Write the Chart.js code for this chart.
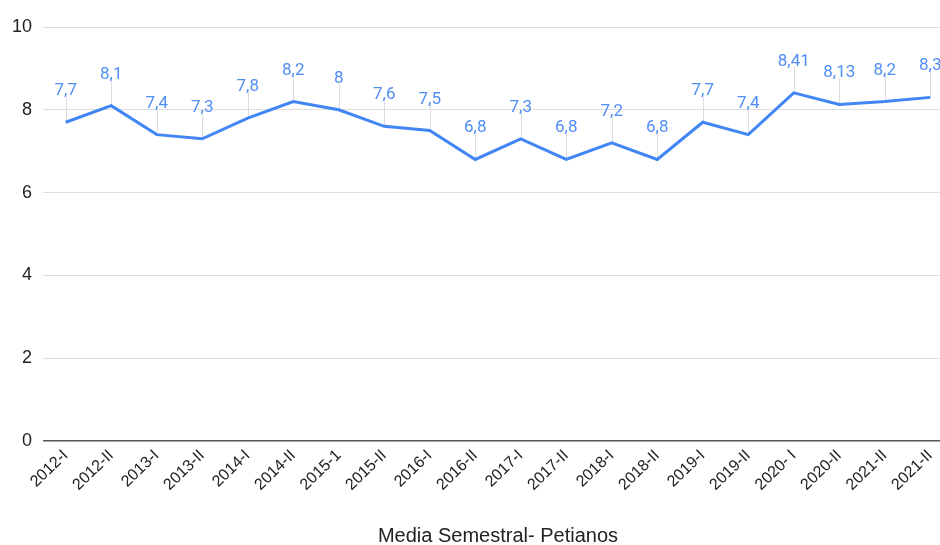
<!DOCTYPE html>
<html>
<head>
<meta charset="utf-8">
<script src="https://cdn.jsdelivr.net/npm/chart.js@4"></script>
<style>
html,body{margin:0;padding:0;background:#fff;overflow:hidden;width:940px;height:545px;}
#wrap{position:absolute;left:0;top:0;width:953px;height:545px;}
canvas{display:block;}
</style>
</head>
<body>
<div id="wrap"><canvas id="c" width="953" height="545"></canvas></div>
<script>
const categories = ["2012-I","2012-II","2013-I","2013-II","2014-I","2014-II","2015-1","2015-II","2016-I","2016-II","2017-I","2017-II","2018-I","2018-II","2019-I","2019-II","2020- I","2020-II","2021-II","2021-II"];
const mediaValues = [7.7, 8.1, 7.4, 7.3, 7.8, 8.2, 8, 7.6, 7.5, 6.8, 7.3, 6.8, 7.2, 6.8, 7.7, 7.4, 8.41, 8.13, 8.2, 8.3];
const yTicks = [0, 2, 4, 6, 8, 10];
const axisTitle = "Media Semestral- Petianos";

const labelPlugin = {
  id: 'valueLabels',
  beforeDatasetsDraw(chart) {
    const ctx = chart.ctx;
    const meta = chart.getDatasetMeta(0);
    ctx.save();
    ctx.strokeStyle = '#dcdcdc';
    ctx.lineWidth = 1;
    meta.data.forEach(pt => {
      const x = Math.round(pt.x) + 0.5;
      ctx.beginPath();
      ctx.moveTo(x, pt.y);
      ctx.lineTo(x, pt.y - 26);
      ctx.stroke();
    });
    ctx.restore();
  },
  afterDatasetsDraw(chart) {
    const ctx = chart.ctx;
    const meta = chart.getDatasetMeta(0);
    const vals = chart.data.datasets[0].data;
    ctx.save();
    ctx.font = '17px Roboto, "Noto Sans", sans-serif';
    ctx.fillStyle = '#4f8ef5';
    ctx.textAlign = 'center';
    ctx.textBaseline = 'alphabetic';
    meta.data.forEach((pt, i) => {
      ctx.fillText(String(vals[i]).replace('.', ','), pt.x, pt.y - 27);
    });
    ctx.restore();
  }
};

new Chart(document.getElementById('c'), {
  type: 'line',
  data: {
    labels: categories,
    datasets: [{
      data: mediaValues,
      borderColor: '#4285f4',
      borderWidth: 3,
      pointRadius: 0,
      pointHoverRadius: 0,
      tension: 0,
      fill: false
    }]
  },
  options: {
    responsive: false,
    animation: false,
    layout: { padding: { top: 27, left: 0, right: 0, bottom: 0 } },
    plugins: { legend: { display: false }, tooltip: { enabled: false } },
    scales: {
      x: {
        offset: true,
        grid: { display: false, drawTicks: false },
        border: { display: false },
        ticks: {
          color: '#222',
          font: { family: '"Liberation Sans", Arial, sans-serif', size: 16 },
          maxRotation: 44, minRotation: 44,
          autoSkip: false,
          padding: 5
        },
        title: {
          display: true,
          text: axisTitle,
          color: '#222',
          font: { family: '"Liberation Sans", Arial, sans-serif', size: 20 },
          padding: { top: 0, bottom: -3 }
        },
        afterFit(scale) { scale.height = 104; }
      },
      y: {
        min: 0, max: 10,
        afterBuildTicks(scale) { scale.ticks = yTicks.map(v => ({ value: v })); },
        grid: {
          drawTicks: false,
          color: ctx => (ctx.tick && ctx.tick.value === 0) ? '#555' : '#dedede',
          lineWidth: ctx => (ctx.tick && ctx.tick.value === 0) ? 1.5 : 1
        },
        border: { display: false },
        ticks: {
          color: '#222',
          font: { family: '"Liberation Sans", Arial, sans-serif', size: 18 },
          padding: 11
        },
        afterFit(scale) { scale.width = 43; }
      }
    }
  },
  plugins: [labelPlugin]
});
</script>
</body>
</html>
